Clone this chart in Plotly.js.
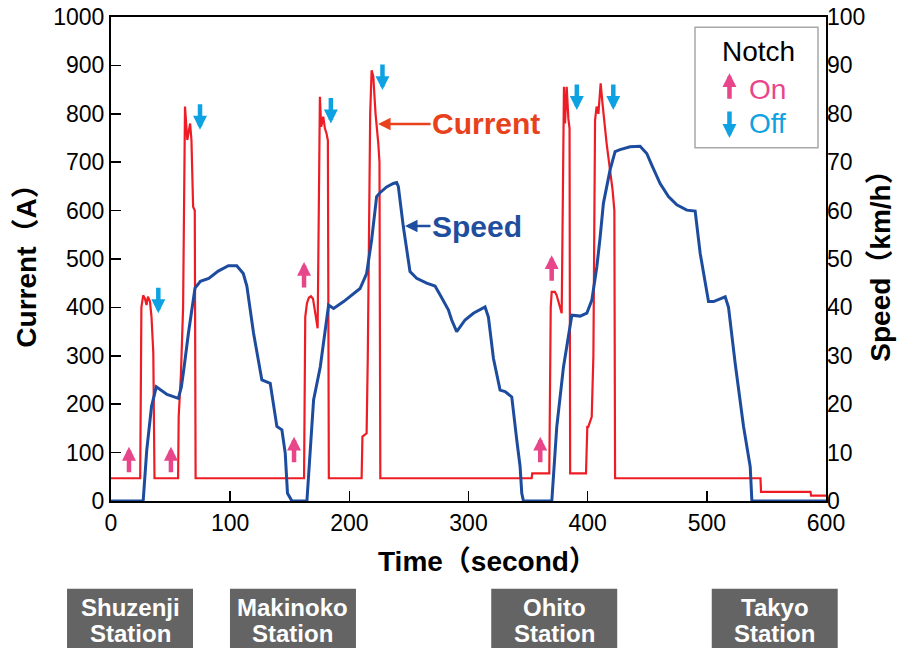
<!DOCTYPE html>
<html>
<head>
<meta charset="utf-8">
<script src="https://cdn.plot.ly/plotly-3.0.1.min.js"></script>
<style>html,body{margin:0;padding:0;background:#fff;}#chart{width:912px;height:648px;}</style>
</head>
<body>
<div id="chart"></div>
<script>
// Time (s) and current (A)
const currentTime = [0, 24.5, 25.5, 27, 28.5, 29.8, 31, 32.7, 34, 35.5, 36.5, 56.3, 56.8, 58.7, 60.5, 62.1, 64, 66.4, 67.5, 68.9, 70.3, 71, 162, 163, 164.4, 166, 167.8, 169.5, 173.4, 175.3, 176.4, 178.1, 179.5, 180.8, 182, 182.8, 210.3, 211, 214.5, 215.5, 217.5, 218.7, 220.1, 222, 224.3, 225.3, 226, 353, 353.5, 367.8, 369, 369.8, 372.5, 374, 378.2, 379.3, 380.1, 381, 382.4, 383.8, 384.8, 385.3, 398.6, 399.7, 400.5, 403.4, 404.8, 406.2, 407.5, 409, 410.9, 412.5, 415.9, 420.9, 422.4, 423, 545, 545.5, 587, 587.5, 600];
const currentAmp = [47, 47, 400, 425, 418, 405, 422, 412, 380, 306, 47, 47, 174, 264, 400, 815, 746, 780, 746, 608, 600, 47, 47, 380, 408, 420, 423, 418, 357, 835, 773, 794, 770, 760, 745, 47, 47, 133, 140, 300, 800, 890, 877, 800, 739, 700, 47, 47, 57, 57, 400, 432, 432, 425, 388, 600, 856, 780, 856, 790, 770, 57, 57, 153, 153, 174, 300, 787, 815, 800, 863, 820, 739, 643, 600, 47, 47, 19, 19, 11, 11];

// Time (s) and speed (km/h)
const speedTime = [0, 27, 30, 34, 38, 47, 56.5, 59, 61, 65, 70.5, 75, 82, 90, 98.5, 105.5, 111, 114, 119.6, 126.6, 133.6, 139.2, 143.4, 146.2, 148.1, 151.8, 164.4, 170, 175.6, 182.6, 186.8, 195.2, 209, 214.5, 218.7, 222.9, 225.7, 231.3, 236.9, 239.7, 241.1, 245.3, 250.9, 256.5, 264.9, 271.9, 276.1, 283.1, 285.9, 290.1, 297.1, 304.1, 313.9, 316.7, 320.9, 326.5, 330.7, 336.3, 340.5, 343.3, 344.7, 346.1, 369.9, 374.1, 379.7, 386.7, 393.7, 399.3, 403.5, 407.7, 410.5, 413.2, 418.8, 423, 427.2, 435.6, 444, 449.6, 453.8, 460.8, 467.8, 474.8, 483.2, 490.2, 494.4, 501.4, 505.6, 515.4, 518.2, 523.8, 530.8, 536.4, 537.8, 600];
const speedKmh = [0, 0, 10.5, 19.5, 23.6, 22, 21.2, 23.5, 27, 34.7, 44, 45.4, 46, 47.5, 48.6, 48.6, 47, 44.4, 34.7, 25.0, 24.3, 15.4, 14.7, 9.9, 1.6, 0, 0, 20.9, 27.7, 40.5, 39.8, 41.2, 43.9, 47, 53.9, 62.9, 63.7, 64.9, 65.6, 65.8, 65, 56.7, 47.4, 46, 45, 44.4, 42.6, 39.5, 37.4, 35, 37.4, 38.8, 40.1, 38, 29.5, 22.9, 22.6, 21.5, 12.6, 7.1, 1.6, 0, 0, 15.4, 27.7, 38.4, 38.2, 38.8, 41.5, 48.4, 54.6, 61.5, 68.4, 72.2, 72.6, 73.2, 73.3, 71.8, 69.4, 65.6, 62.9, 61.2, 60.1, 59.9, 51.2, 41.2, 41.2, 42.2, 40, 28.4, 15.4, 7.1, 0, 0];

// Notch events (time, current level at arrow tip)
const notchOnTime = [15.1, 50.3, 153.6, 162, 360.2, 369.8];
const notchOnAmp = [112, 112, 133, 494, 133, 508];
const notchOffTime = [39.7, 74.7, 184.5, 227.8, 390.9, 421.5];
const notchOffAmp = [388, 767, 780, 849, 808, 808];

// Stations
const stationNames = ['Shuzenji', 'Makinoko', 'Ohito', 'Takyo'];
const stationLine2 = 'Station';

const xTicks = [0, 100, 200, 300, 400, 500, 600];

const FONT = 'Liberation Sans, Arial, Noto Sans CJK JP, sans-serif';
const PINK = '#e8468a', CYAN = '#0ea2e2';
const AW = 4.5, AS = 0.62;

const traces = [
  {x: currentTime, y: currentAmp, type: 'scatter', mode: 'lines', name: 'Current',
   line: {color: '#ee1d25', width: 2.2}, yaxis: 'y'},
  {x: speedTime, y: speedKmh, type: 'scatter', mode: 'lines', name: 'Speed',
   line: {color: '#1d4c9e', width: 3}, yaxis: 'y2'}
];

const ann = [];
notchOnTime.forEach((t, i) => ann.push({x: t, y: notchOnAmp[i], xref: 'x', yref: 'y', text: '',
  showarrow: true, arrowhead: 2, arrowsize: AS, arrowwidth: AW, arrowcolor: PINK, ax: 0, ay: 27, standoff: 0}));
notchOffTime.forEach((t, i) => ann.push({x: t, y: notchOffAmp[i], xref: 'x', yref: 'y', text: '',
  showarrow: true, arrowhead: 2, arrowsize: AS, arrowwidth: AW, arrowcolor: CYAN, ax: 0, ay: -27, standoff: 0}));

// Line labels
ann.push({x: 224.1, y: 779, xref: 'x', yref: 'y', text: '<b>Current</b>', font: {family: FONT, size: 30, color: '#e8421c'},
  showarrow: true, arrowhead: 2, arrowsize: 1, arrowwidth: 2.5, arrowcolor: '#e8421c', ax: 108, ay: 0, standoff: 0});
ann.push({x: 246.7, y: 56.8, xref: 'x', yref: 'y2', text: '<b>Speed</b>', font: {family: FONT, size: 30, color: '#1f4e9e'},
  showarrow: true, arrowhead: 2, arrowsize: 1, arrowwidth: 2.5, arrowcolor: '#1f4e9e', ax: 72, ay: 0, standoff: 0});

// X axis title
ann.push({x: 0.527, y: -0.124, xref: 'paper', yref: 'paper', text: '<b>Time（second）</b>', showarrow: false,
  font: {family: FONT, size: 28, color: '#000'}, xanchor: 'center', yanchor: 'middle'});

// Legend box
ann.push({x: 0.906, y: 0.928, xref: 'paper', yref: 'paper', text: 'Notch', showarrow: false,
  font: {family: FONT, size: 28, color: '#000'}, xanchor: 'center', yanchor: 'middle'});
ann.push({x: 0.889, y: 0.851, xref: 'paper', yref: 'paper', text: 'On', showarrow: false,
  font: {family: FONT, size: 28, color: PINK}, xanchor: 'left', yanchor: 'middle'});
ann.push({x: 0.889, y: 0.779, xref: 'paper', yref: 'paper', text: 'Off', showarrow: false,
  font: {family: FONT, size: 28, color: CYAN}, xanchor: 'left', yanchor: 'middle'});
ann.push({x: 0.8650, y: 0.884, xref: 'paper', yref: 'paper', text: '', showarrow: true, arrowhead: 2,
  arrowsize: AS, arrowwidth: AW, arrowcolor: PINK, ax: 0, ay: 27, standoff: 0});
ann.push({x: 0.8650, y: 0.750, xref: 'paper', yref: 'paper', text: '', showarrow: true, arrowhead: 2,
  arrowsize: AS, arrowwidth: AW, arrowcolor: CYAN, ax: 0, ay: -28, standoff: 0});

// Station labels
const boxLeft = [-0.0615, 0.1664, 0.5318, 0.8402];
const boxW = 0.1762;
const shapes = [
  {type: 'rect', xref: 'paper', yref: 'paper', x0: 0.8168, x1: 0.9888, y0: 0.7298, y1: 0.9788,
   line: {color: '#a8a8a8', width: 1.5}, fillcolor: 'rgba(255,255,255,0)'}
];
stationNames.forEach((s, i) => {
  shapes.push({type: 'rect', xref: 'paper', yref: 'paper', x0: boxLeft[i], x1: boxLeft[i] + boxW,
    y0: -0.32, y1: -0.1815, line: {width: 0}, fillcolor: '#646464', layer: 'above'});
  const cx = boxLeft[i] + boxW / 2;
  ann.push({x: cx, y: -0.221, xref: 'paper', yref: 'paper', text: '<b>' + s + '</b>', showarrow: false,
    font: {family: FONT, size: 24, color: '#fff'}, xanchor: 'center', yanchor: 'middle'});
  ann.push({x: cx, y: -0.273, xref: 'paper', yref: 'paper', text: '<b>' + stationLine2 + '</b>', showarrow: false,
    font: {family: FONT, size: 24, color: '#fff'}, xanchor: 'center', yanchor: 'middle'});
});

const layout = {
  width: 912, height: 648,
  margin: {l: 111, r: 86, t: 17, b: 147},
  paper_bgcolor: '#fff', plot_bgcolor: '#fff',
  showlegend: false,
  font: {family: FONT, size: 23, color: '#000'},
  xaxis: {range: [0, 600], tickvals: xTicks, ticks: 'inside', ticklen: 10, tickwidth: 1.5, tickcolor: '#000',
    showline: true, linewidth: 2, linecolor: '#000', mirror: true, showgrid: false, zeroline: false,
    tickfont: {size: 23}},
  yaxis: {range: [0, 1000], dtick: 100, ticks: 'inside', ticklen: 10, tickwidth: 1.5, tickcolor: '#000',
    showline: true, linewidth: 2, linecolor: '#000', mirror: true, showgrid: false, zeroline: false,
    tickfont: {size: 23}, title: {text: '<b>Current（A）</b>', font: {size: 28}, standoff: 8}},
  yaxis2: {range: [0, 100], dtick: 10, overlaying: 'y', side: 'right', ticks: '', showline: false,
    showgrid: false, zeroline: false, tickfont: {size: 23},
    title: {text: '<b>Speed（km/h）</b>', font: {size: 28}, standoff: 6}},
  annotations: ann,
  shapes: shapes
};

Plotly.newPlot('chart', traces, layout, {displayModeBar: false, staticPlot: true});
</script>
</body>
</html>
